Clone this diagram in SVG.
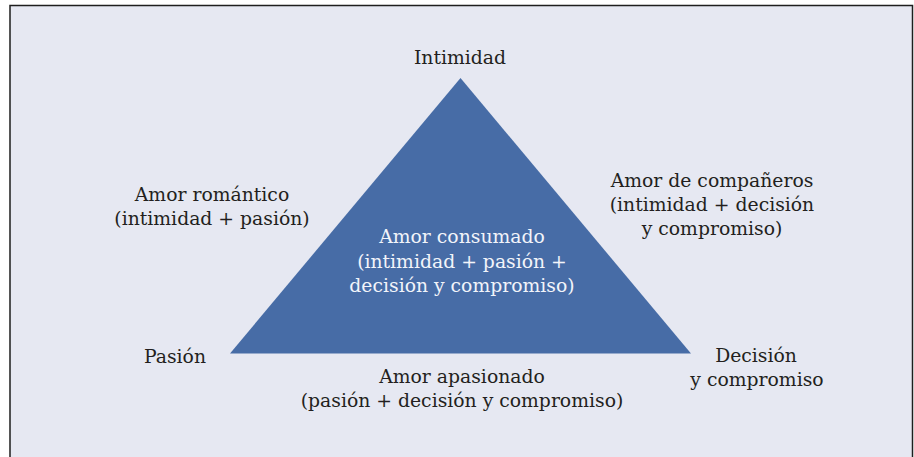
<svg xmlns="http://www.w3.org/2000/svg" width="914" height="457" viewBox="0 0 914 457">
<style>
text{font-family:"DejaVu Serif","Liberation Serif",serif;font-size:18.8px;fill:#231f20;text-anchor:middle}
.in{fill:#f2f4fa}
</style>
<rect x="0" y="0" width="914" height="457" fill="#ffffff"/>
<rect x="10" y="5.5" width="902.5" height="460" fill="#e6e8f2" stroke="#1e1e1e" stroke-width="1.5"/>
<g id="triangle">
<polygon points="460.5,78 230,353.5 691,353.5" fill="#476ca6"/>
</g>
<g id="consumado">
<text class="in" x="462" y="243">Amor consumado</text>
<text class="in" x="462" y="267.5">(intimidad + pasión +</text>
<text class="in" x="462" y="292">decisión y compromiso)</text>
</g>
<g id="intimidad"><text x="460" y="64">Intimidad</text></g>
<g id="romantico">
<text x="212" y="201">Amor romántico</text>
<text x="212" y="225">(intimidad + pasión)</text>
</g>
<g id="companeros">
<text x="712" y="187">Amor de compañeros</text>
<text x="712" y="211">(intimidad + decisión</text>
<text x="712" y="235">y compromiso)</text>
</g>
<g id="pasion"><text x="175" y="363">Pasión</text></g>
<g id="decision">
<text x="756" y="362">Decisión</text>
<text x="757" y="386">y compromiso</text>
</g>
<g id="apasionado">
<text x="462" y="383">Amor apasionado</text>
<text x="462" y="407">(pasión + decisión y compromiso)</text>
</g>
<g id="connectors"></g>
</svg>
